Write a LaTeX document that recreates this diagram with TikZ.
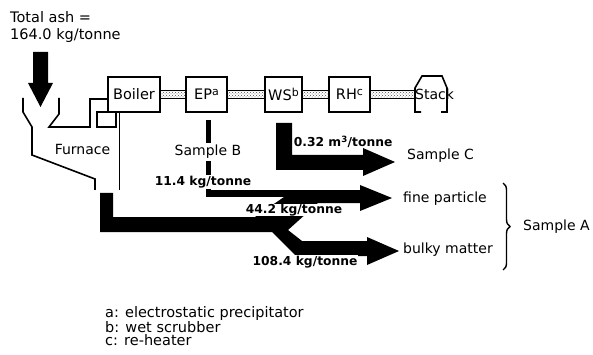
\documentclass[tikz,border=0pt]{standalone}
\usepackage{fontspec}
\setmainfont{DejaVu Sans}
\usepackage{tikz}
\usetikzlibrary{calc,positioning,patterns,decorations.pathreplacing}

\newcommand{\unitsup}[1]{\raisebox{4.5pt}{\fontsize{11}{11}\selectfont #1}}

\tikzset{
  unit/.style={draw, line width=1.5pt, inner sep=0pt, minimum height=35pt,
    font=\fontsize{14.5}{16}\selectfont},
  duct/.style={draw, line width=0.9pt, pattern=crosshatch dots, pattern color=black!70},
  wall/.style={line width=1.6pt, line join=miter},
  txt/.style={inner sep=1pt, font=\fontsize{14}{16}\selectfont},
  flowlbl/.style={inner sep=0.6pt, font=\bfseries\fontsize{12.3}{14}\selectfont}
}

\begin{document}
\begin{tikzpicture}[x=1pt, y=-1pt]
  \useasboundingbox (0,0) rectangle (593,355);

  % Ash input
  \node[txt, inner sep=0pt, anchor=north west, align=left,
    font=\fontsize{14.5}{17}\selectfont] (ash) at (10,11.5) {Total ash =\\164.0 kg/tonne};
  \fill (33,52) -- (48,52) -- (48,83) -- (53,83) -- (40.5,107) -- (28,83) -- (33,83) -- cycle;

  % Gas line units
  \node[unit, minimum width=52pt] (boiler) at (134,94.5) {Boiler};
  \node[unit, minimum width=41pt] (ep) at (206.5,94.5) {EP\unitsup{a}};
  \node[unit, minimum width=37pt] (ws) at (283.5,94.5) {WS\unitsup{b}};
  \node[unit, minimum width=41pt] (rh) at (349.5,94.5) {RH\unitsup{c}};
  \coordinate (stackin) at (415,94.5);

  % Ducts
  \draw[duct] (boiler.east) ++(0,-4) rectangle ($(ep.west)+(0,4)$);
  \draw[duct] (ep.east) ++(0,-4) rectangle ($(ws.west)+(0,4)$);
  \draw[duct] (ws.east) ++(0,-4) rectangle ($(rh.west)+(0,4)$);
  \draw[duct] (rh.east) ++(0,-4) rectangle ($(stackin)+(0,4)$);

  % Stack
  \draw[wall] (421,112) -- (415,112) -- (415,88) -- (422,76) -- (442,76) -- (447,88) -- (447,112) -- (441,112);
  \node[txt, inner sep=0pt, anchor=west] (stack) at (stackin) {Stack};

  % Furnace
  \draw[wall] (23,98) -- (23,112) -- (32,127) -- (32,155) -- (95,179) -- (95,190);
  \draw[wall] (59,98) -- (59,114) -- (49,127) -- (90,127) -- (90,99) -- (boiler.west |- 0,99);
  \draw[wall] (97,112) rectangle (116,127);
  \draw[wall] (119.5,112) -- (119.5,190);
  \node[txt] (furnace) at (82.5,149) {Furnace};

  % Sample B (EP dust)
  \fill (205.5,120) rectangle (210.5,197);
  \fill (205.5,190) rectangle (361,197);
  \node[txt, fill=white, inner sep=2pt] (sampleb) at (208,152) {Sample B};
  \node[flowlbl, fill=white, inner sep=1.2pt] (flowb) at (203,182) {11.4 kg/tonne};

  % Sample C (WS water)
  \fill (276,123) -- (292,123) -- (292,155) -- (363,155) -- (363,148) -- (395,162)
    -- (363,176) -- (363,170) -- (276,170) -- cycle;
  \node[flowlbl, anchor=west] (flowc) at (293,142) {0.32 m\textsuperscript{3}/tonne};
  \node[txt, anchor=west] (samplec) at (406,156) {Sample C};

  % Furnace bottom ash, split into two streams
  \fill (100,193) -- (113,193) -- (113,217) -- (255,217) -- (284,197) -- (360,197)
    -- (360,185) -- (392,198) -- (360,211) -- (360,203) -- (318,203) -- (288,230)
    -- (302,241) -- (367,241) -- (367,237) -- (399,251) -- (367,265) -- (367,256)
    -- (296,256) -- (272,232) -- (100,232) -- cycle;
  \node[flowlbl, fill=white, inner sep=0.3pt] (flowfine) at (294,210) {44.2 kg/tonne};
  \node[flowlbl, fill=white] (flowbulk) at (305,262) {108.4 kg/tonne};
  \node[txt, anchor=west] (fine) at (402,199) {fine particle};
  \node[txt, anchor=west] (bulky) at (402,250) {bulky matter};

  % Sample A
  \draw[decorate, decoration={brace, amplitude=7pt}, line width=1.4pt] (503,183) -- (503,270);
  \node[txt, anchor=west] (samplea) at (522,227) {Sample A};

  % Legend
  \node[txt, inner sep=0pt, anchor=north west, align=left,
    font=\fontsize{14.5}{13.5}\selectfont] (legend) at (105,306)
    {a: electrostatic precipitator\\b: wet scrubber\\c: re-heater};
\end{tikzpicture}
\end{document}
